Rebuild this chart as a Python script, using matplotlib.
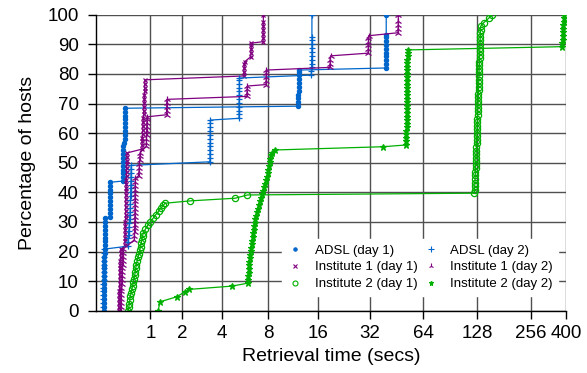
import numpy as np
import matplotlib
matplotlib.use("Agg")
import matplotlib.pyplot as plt
from matplotlib.lines import Line2D

plt.rcParams['font.family'] = ['Liberation Sans', 'DejaVu Sans']

# retrieval time (secs), percentage of hosts
ADSL_DAY1 = [(0.105, 0), (0.105, 1.3), (0.106, 2.6), (0.106, 3.9), (0.107, 5.2), (0.107, 6.5),
             (0.108, 7.8), (0.108, 9.1), (0.109, 10.4), (0.11, 11.7), (0.11, 13), (0.111, 14.3),
             (0.112, 15.6), (0.113, 16.9), (0.114, 18.2), (0.115, 19.5), (0.116, 20.8), (0.118, 22.1),
             (0.12, 23.4), (0.121, 24.7), (0.122, 26), (0.123, 27.3), (0.124, 28.6), (0.126, 29.9),
             (0.128, 31.2), (0.19, 31.8), (0.19, 33.1), (0.191, 34.4), (0.192, 35.7), (0.193, 37),
             (0.194, 38.3), (0.195, 39.6), (0.196, 40.9), (0.198, 42.2), (0.2, 43.4), (0.41, 43.8),
             (0.41, 45.1), (0.412, 46.4), (0.413, 47.7), (0.414, 49), (0.415, 50.3), (0.416, 51.6),
             (0.417, 52.9), (0.418, 54.2), (0.42, 55.5), (0.425, 56.8), (0.44, 58.1), (0.445, 59.4),
             (0.446, 60.7), (0.447, 62), (0.448, 63.3), (0.449, 64.6), (0.45, 65.9), (0.451, 67.2),
             (0.452, 68.4), (12.2, 69.1), (12.2, 70.4), (12.2, 71.7), (12.2, 73), (12.25, 74.3),
             (12.25, 75.6), (12.25, 76.9), (12.3, 78.2), (12.3, 79.5), (12.35, 80.8), (12.35, 81.3),
             (39.3, 82), (39.3, 83.3), (39.3, 84.6), (39.3, 85.9), (39.4, 87.2), (39.4, 88.5),
             (39.4, 89.8), (39.4, 91.1), (39.5, 92.4), (39.5, 93.2), (39.5, 100)]

ADSL_DAY2 = [(0.095, 0), (0.095, 1.3), (0.096, 2.6), (0.097, 3.9), (0.098, 5.2), (0.099, 6.5),
             (0.1, 7.8), (0.1, 9.1), (0.101, 10.4), (0.102, 11.7), (0.103, 13), (0.104, 14.3),
             (0.105, 15.6), (0.106, 16.9), (0.107, 18.2), (0.108, 19.5), (0.11, 20.8),
             (0.5, 21.8), (0.505, 23.1), (0.51, 24.4), (0.515, 25.7), (0.52, 27), (0.525, 28.3),
             (0.53, 29.6), (0.535, 30.9), (0.54, 32.2), (0.545, 33.5), (0.548, 34.8), (0.55, 36.1),
             (0.552, 37.4), (0.554, 38.7), (0.556, 40), (0.558, 41.3), (0.56, 42.6), (0.561, 43.9),
             (0.562, 45.2), (0.563, 46.5), (0.564, 47.8), (0.565, 49.1),
             (3.27, 50.3), (3.28, 51.6), (3.28, 52.9), (3.28, 54.2), (3.28, 55.5), (3.29, 56.8),
             (3.29, 58.1), (3.29, 59.4), (3.29, 60.7), (3.3, 62), (3.3, 63.3), (3.3, 64.4),
             (5.2, 65), (5.2, 66.3), (5.2, 67.6), (5.2, 68.9), (5.2, 70.2), (5.21, 71.5),
             (5.21, 72.8), (5.21, 74.1), (5.22, 75.4), (5.22, 76.7), (5.22, 78), (5.22, 78.6),
             (14.6, 79.6), (14.6, 80.9), (14.65, 82.2), (14.65, 83.5), (14.65, 84.8), (14.7, 86.1),
             (14.7, 87.4), (14.7, 88.7), (14.7, 90), (14.7, 91.3), (14.7, 92.6), (14.7, 100)]

INST1_DAY1 = [(0.34, 0), (0.34, 1.3), (0.342, 2.6), (0.344, 3.9), (0.346, 5.2), (0.348, 6.5),
              (0.35, 7.8), (0.352, 9.1), (0.354, 10.4), (0.356, 11.7), (0.358, 13), (0.36, 14.3),
              (0.362, 15.6), (0.365, 16.9), (0.368, 18.2), (0.372, 19.5), (0.376, 20.8),
              (0.448, 22.1), (0.45, 23.4), (0.451, 24.7), (0.452, 26), (0.454, 27.3), (0.455, 28.6),
              (0.456, 29.9), (0.458, 31.2), (0.46, 32.5), (0.461, 33.8), (0.462, 35.1), (0.464, 36.4),
              (0.465, 37.7), (0.466, 39), (0.468, 40.3), (0.47, 41.6), (0.472, 42.9), (0.474, 44.2),
              (0.476, 45.5), (0.478, 46.8), (0.48, 48.1), (0.482, 49.4), (0.484, 50.7), (0.485, 52),
              (0.486, 53.3), (0.8, 54.6), (0.802, 55.9), (0.805, 57.2), (0.808, 58.5), (0.81, 59.8),
              (0.815, 61.1), (0.82, 62.4), (0.825, 63.7), (0.83, 65), (0.835, 66.3), (0.84, 67.6),
              (0.845, 68.9), (0.85, 70.2), (0.853, 71.5), (0.856, 72.8), (0.86, 74.1), (0.862, 75.4),
              (0.865, 76.7), (0.868, 78), (5.6, 79.3), (5.6, 80.6), (5.62, 81.9), (5.64, 83.2),
              (5.65, 84.1), (6.2, 85.8), (6.22, 87.1), (6.24, 88.4), (6.25, 89.7), (6.26, 90.4),
              (7.43, 90.9), (7.43, 92.2), (7.43, 93.5), (7.44, 94.8), (7.44, 96.1), (7.45, 97.4),
              (7.45, 100)]

INST1_DAY2 = [(0.37, 0), (0.37, 1.3), (0.372, 2.6), (0.374, 3.9), (0.376, 5.2), (0.378, 6.5),
              (0.38, 7.8), (0.39, 9.1), (0.395, 10.4), (0.398, 11.7), (0.4, 13), (0.402, 14.3),
              (0.404, 15.6), (0.406, 16.9), (0.408, 18.2), (0.41, 19.5), (0.412, 20.8),
              (0.63, 23.9), (0.632, 25.2), (0.634, 26.5), (0.636, 27.8), (0.638, 29.1), (0.64, 30.4),
              (0.641, 31.7), (0.642, 33), (0.643, 34.3), (0.644, 35.6), (0.645, 36.9), (0.646, 38.2),
              (0.647, 39.5), (0.648, 40.8), (0.649, 42.1), (0.65, 43.4), (0.652, 44.7),
              (0.72, 45.6), (0.73, 46.9), (0.735, 48.2), (0.74, 49.5), (0.745, 50.8), (0.75, 52.1),
              (0.755, 53.4), (0.9, 55.5), (0.902, 56.8), (0.904, 58.1), (0.906, 59.4), (0.908, 60.7),
              (0.91, 62), (0.912, 63.3), (0.915, 64.6), (0.917, 65.5), (1.46, 66.2), (1.46, 67.5),
              (1.465, 68.8), (1.465, 70.1), (1.47, 71.4), (5.85, 72.4), (5.86, 73.7), (5.87, 75),
              (5.88, 75.9), (7.74, 76.4), (7.75, 77.7), (7.76, 79), (7.77, 80.3), (7.78, 81.3),
              (18.7, 82.2), (18.8, 83.5), (18.8, 84.8), (18.9, 86.1), (31.1, 87), (31.2, 88.3),
              (31.2, 89.6), (31.3, 90.9), (31.3, 92.2), (31.4, 92.9), (46, 93.9), (46.1, 95.2),
              (46.2, 96.5), (46.2, 97.8), (46.3, 100)]

INST2_DAY1 = [(0.51, 0), (0.52, 1.2), (0.53, 2.4), (0.54, 3.6), (0.55, 4.8), (0.565, 6),
              (0.58, 7.2), (0.595, 8.4), (0.61, 9.6), (0.625, 10.8), (0.64, 12), (0.65, 13.2),
              (0.66, 14.4), (0.675, 15.6), (0.69, 16.8), (0.71, 18), (0.725, 19.2), (0.745, 20.4),
              (0.765, 21.6), (0.78, 22.8), (0.795, 24), (0.81, 25.2), (0.83, 26.4), (0.88, 27.6),
              (0.94, 29), (1.0, 30), (1.07, 31.2), (1.14, 32.4), (1.22, 33.6), (1.3, 34.8),
              (1.36, 35.6), (1.41, 36.3), (2.32, 37.1), (4.9, 38), (5.9, 39.1),
              (123.5, 39.7), (124, 40.9), (124.2, 42.1), (124.6, 43.3), (124.7, 44.5), (125, 45.7),
              (125.3, 46.9), (125.5, 48.1), (125.6, 49.3), (126, 50.5), (126.3, 51.7), (126.5, 52.9),
              (126.6, 54.1), (127, 55.3), (127.2, 56.5), (127.4, 57.7), (127.7, 58.9), (128, 60.1),
              (128.1, 61.3), (128.4, 62.5), (128.6, 63.7), (128.7, 64.9), (129, 66.1), (129.2, 67.3),
              (129.3, 68.5), (129.6, 69.7), (129.8, 70.9), (130, 72.1), (130.1, 73.3), (130.4, 74.5),
              (130.6, 75.7), (130.7, 76.9), (131, 78.1), (131.2, 79.3), (131.3, 80.5), (131.6, 81.7),
              (131.8, 82.9), (132, 84.1), (132.1, 85.3), (132.4, 86.5), (132.6, 87.7), (132.7, 88.9),
              (133, 90.1), (133.2, 91.3), (133.3, 92.5), (133.6, 93.7), (133.8, 94.9), (134, 96.1),
              (139.4, 97.3), (148.6, 98.8), (155, 100)]

INST2_DAY2 = [(1.21, 0), (1.26, 3), (1.8, 4.7), (2.11, 6.4), (2.28, 7.2), (4.65, 8.3), (5.93, 9.3),
              (5.96, 10.5), (5.98, 11.7), (6.0, 12.9), (6.02, 14.1), (6.05, 15.3), (6.08, 16.5),
              (6.11, 17.7), (6.14, 18.9), (6.18, 20.1), (6.22, 21.3), (6.27, 22.5), (6.32, 23.7),
              (6.37, 24.9), (6.42, 26.1), (6.47, 27.3), (6.52, 28.5), (6.58, 29.7), (6.64, 30.9),
              (6.7, 32.1), (6.77, 33.3), (6.85, 34.5), (6.95, 35.7), (7.05, 36.9), (7.2, 38.1),
              (7.35, 39.3), (7.45, 40.5), (7.55, 41.7), (7.65, 42.9), (7.75, 44.1), (7.85, 45.3),
              (7.93, 46.5), (8.0, 47.7), (8.08, 48.9), (8.15, 50.1), (8.22, 51.3), (8.3, 52.5),
              (8.45, 53.4), (8.83, 54.3), (38.1, 55.4), (51.3, 56), (51.3, 57.2), (51.4, 58.4),
              (51.4, 59.6), (51.4, 60.8), (51.5, 62), (51.5, 63.2), (51.5, 64.4), (51.6, 65.6),
              (51.6, 66.8), (51.6, 68), (51.7, 69.2), (51.7, 70.4), (51.7, 71.6), (51.8, 72.8),
              (51.8, 74), (51.8, 75.2), (51.9, 76.4), (51.9, 77.6), (51.9, 78.8), (52, 80),
              (52, 81.2), (52, 82.4), (52.1, 83.6), (52.1, 84.8), (52.2, 86), (52.2, 87.2),
              (52.3, 88.1), (380.7, 89.2), (382, 90.4), (383, 91.6), (384, 92.8), (385, 94),
              (386, 95.2), (387, 96.4), (388, 97.6), (389, 98.8), (390, 100)]

XTICKS = [1, 2, 4, 8, 16, 32, 64, 128, 256, 400]
YTICKS = [0, 10, 20, 30, 40, 50, 60, 70, 80, 90, 100]

BLUE = '#0066cc'
PURPLE = '#800080'
GREEN = '#00b000'

# label, data, colour, marker, size, filled
series = [
    ('ADSL (day 1)', ADSL_DAY1, BLUE, 'o', 3.0, True),
    ('Institute 1 (day 1)', INST1_DAY1, PURPLE, 'x', 3.5, True),
    ('Institute 2 (day 1)', INST2_DAY1, GREEN, 'o', 4.5, False),
    ('ADSL (day 2)', ADSL_DAY2, BLUE, '+', 5.0, True),
    ('Institute 1 (day 2)', INST1_DAY2, PURPLE, '2', 5.0, True),
    ('Institute 2 (day 2)', INST2_DAY2, GREEN, '*', 4.5, True),
]

fig = plt.figure(figsize=(5.87, 3.73), dpi=100)
ax = fig.add_axes([96 / 587, 1 - 310.7 / 373, 470 / 587, 296 / 373])

ax.set_xscale('function', functions=(lambda x: np.log2(np.maximum(x, -0.999) + 1),
                                     lambda y: 2.0 ** y - 1))

handles = []
for label, data, col, mk, ms, filled in series:
    t, p = zip(*data)
    ax.plot(t, p, color=col, lw=0.9, marker=mk, ms=ms, mew=0.9,
            mfc=col if filled else 'none', mec=col, zorder=3)
    handles.append(Line2D([], [], ls='none', marker=mk, ms=ms * 0.8, mew=0.8, color=col,
                          mfc=col if filled else 'none', mec=col, label=label))

ax.set_xlim(0, 400)
ax.set_ylim(0, 100)
ax.set_xticks(XTICKS)
ax.set_xticklabels([str(v) for v in XTICKS])
ax.set_yticks(YTICKS)
ax.minorticks_off()
ax.grid(True, color='#505050', lw=1.0, zorder=1)
ax.set_axisbelow(True)
for s in ['top', 'right']:
    ax.spines[s].set_visible(False)
for s in ['left', 'bottom']:
    ax.spines[s].set_linewidth(1.0)
    ax.spines[s].set_color('black')
    ax.spines[s].set_zorder(4)
ax.tick_params(axis='both', direction='out', length=5.5, width=1, labelsize=13.5)
ax.tick_params(axis='y', pad=7)
ax.tick_params(axis='x', pad=5)

ax.set_xlabel('Retrieval time (secs)', fontsize=14, labelpad=4)
ax.set_ylabel('Percentage of hosts', fontsize=14, labelpad=8)

leg = ax.legend(handles=handles, ncol=2, loc='upper left',
                bbox_to_anchor=(281.7 / 587, 1 - 239 / 373), bbox_transform=fig.transFigure,
                fontsize=9.5, frameon=True, fancybox=False, framealpha=1, edgecolor='white',
                borderpad=0.4, borderaxespad=0, handlelength=1.2, handletextpad=0.9,
                columnspacing=0.4, labelspacing=0.35)
leg.set_zorder(5)

fig.savefig('out.png', dpi=100)
